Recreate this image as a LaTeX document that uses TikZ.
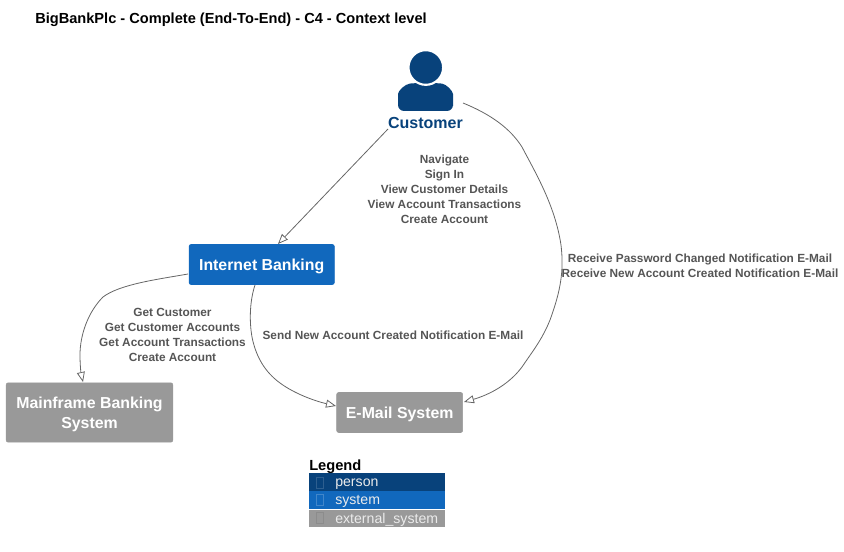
\documentclass[tikz,border=0pt]{standalone}
\usepackage{fontspec}
\setmainfont{Liberation Sans}
\usetikzlibrary{arrows.meta,positioning}
\definecolor{personblue}{HTML}{08427B}
\definecolor{systemblue}{HTML}{1168BD}
\definecolor{externalgray}{HTML}{999999}
\definecolor{linkgray}{HTML}{666666}
\definecolor{labelgray}{HTML}{555555}
\begin{document}
\begin{tikzpicture}
	[x=0.75pt, y=-0.75pt, font=\fontsize{9}{11.25}\selectfont,
	% STYLES
	% The box style is used to draw the systems
	box/.style={rectangle, rounded corners=1.5pt, inner sep=0pt, text depth=-0.7pt, text=white, align=center, font=\fontsize{11.9}{15}\selectfont\bfseries},
	% The link style is used to draw the relations
	link/.style={draw=linkgray, line width=0.6pt, -{Triangle[open,length=7.5pt,width=6pt,fill=white]}},
	% The relation style is used to write the relations' text
	relation/.style={text=labelgray, align=center, inner sep=0pt, font=\fontsize{8.87}{11.25}\selectfont\bfseries},
	% The legendrow style is used to draw the legend's rows
	legendrow/.style={rectangle, anchor=west, minimum width=102pt, minimum height=13.25pt, inner sep=0pt, text height=7.2pt, text depth=0pt, text=white!92!black, text width=102pt, align=left, execute at begin node={\hspace*{19.5pt}}, font=\fontsize{10.6}{12}\selectfont},
	tofu/.style={rectangle, draw, line width=0.4pt, minimum width=5.5pt, minimum height=8pt, inner sep=0pt}]
	\useasboundingbox (0,0) rectangle (844,552);
	% Title
	\node [anchor=west, inner sep=0pt, font=\fontsize{10.95}{13}\selectfont\bfseries] (title) at (35,20) {BigBankPlc - Complete (End-To-End) - C4 - Context level};
	% Draw person
	\fill [personblue, rounded corners=4.5pt] (398,111) -- (398,100) .. controls (398,91) and (405,84) .. (416,83) -- (436,83) .. controls (446,84) and (453,91) .. (453,100) -- (453,111) -- cycle;
	\node [circle, fill=personblue, draw=white, line width=1.6pt, minimum size=26pt, inner sep=0pt] (customer_head) at (425.8,67.5) {};
	\node [inner sep=0pt, text=personblue, font=\fontsize{12}{15}\selectfont\bfseries] (customer) at (425.5,122.5) {Customer};
	% Draw systems
	\node [box, fill=systemblue, draw=systemblue, minimum width=109pt, minimum height=30pt] (internet) at (261.7,264.5) {Internet Banking};
	\node [box, fill=externalgray, draw=externalgray, minimum width=125pt, minimum height=44.5pt, text depth=-1.2pt] (mainframe) at (89.5,412.5) {Mainframe Banking\\System};
	\node [box, fill=externalgray, draw=externalgray, minimum width=94.5pt, minimum height=30pt] (email) at (399.7,412.5) {E-Mail System};
	%%%%%%%%%%%%%%%
	% Free ends of the links
	\coordinate (customer_left) at (388,129);
	\coordinate (customer_right) at (463,103);
	\coordinate (internet_top) at (278,244);
	\coordinate (internet_left) at (188,274);
	\coordinate (internet_bottom) at (255,285);
	\coordinate (mainframe_top) at (83,382);
	\coordinate (email_left) at (336,406);
	\coordinate (email_right) at (464,402);
	% Draw the links between systems
	\draw [link] (customer_left) -- (internet_top);
	\draw [link] (customer_right) .. controls (490,114) and (510,128) .. (522,147) .. controls (535,172) and (555,205) .. (561,245) .. controls (564,270) and (561,290) .. (550,320) .. controls (542,340) and (532,352) .. (522,367) .. controls (507,387) and (485,396) .. (email_right);
	\draw [link] (internet_left) .. controls (160,279) and (120,284) .. (103,297) .. controls (88,312) and (80,335) .. (80,355) .. controls (80,365) and (81,373) .. (mainframe_top);
	\draw [link] (internet_bottom) .. controls (250,300) and (249,320) .. (252,337) .. controls (256,357) and (265,372) .. (280,383) .. controls (295,394) and (315,401) .. (email_left);
	% Relations
	\node [relation] (rel_customer_internet) at (444.5,189.5) {Navigate\\Sign In\\View Customer Details\\View Account Transactions\\Create Account};
	\node [relation] (rel_customer_email) at (700,266) {Receive Password Changed Notification E-Mail\\Receive New Account Created Notification E-Mail};
	\node [relation] (rel_internet_mainframe) at (172.5,335) {Get Customer\\Get Customer Accounts\\Get Account Transactions\\Create Account};
	\node [relation] (rel_internet_email) at (393,335.5) {Send New Account Created Notification E-Mail};
	%%%%%%%%%%%%%%%
	% Legend
	\node [anchor=west, inner sep=0pt, text depth=0pt, font=\fontsize{11}{13}\selectfont\bfseries] (legend) at (309,465) {Legend};
	\node [legendrow, fill=personblue] (legend_person) at (309,482) {person};
	\node [legendrow, fill=systemblue, below=0pt of legend_person] (legend_system) {system};
	\node [legendrow, fill=externalgray, below=0pt of legend_system] (legend_external) {external\_system};
	\node [tofu, draw=personblue!85!white] at (320,482.5) {};
	\node [tofu, draw=systemblue!80!white] at (320,500) {};
	\node [tofu, draw=black!45] at (320,518) {};
\end{tikzpicture}
\end{document}
